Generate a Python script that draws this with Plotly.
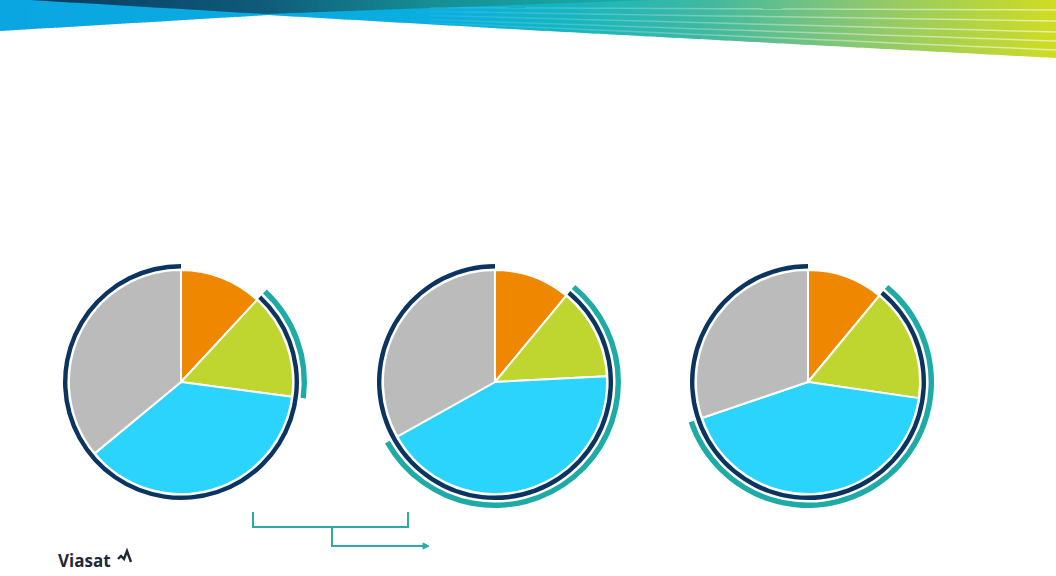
import plotly.graph_objects as go

W, H = 1056, 576

# ---------------- data ----------------
segments = ["Orange", "Green", "Blue", "Gray"]
pie1_values = [11.9, 15.2, 36.9, 36.0]
pie2_values = [11.0, 13.2, 42.7, 33.1]
pie3_values = [11.0, 16.3, 42.5, 30.2]
# which segments are wrapped by the outer arcs
navy_arc_members = [[0, 1, 1, 1], [0, 1, 1, 1], [0, 1, 1, 1]]
teal_arc_members = [[0, 1, 0, 0], [0, 1, 1, 0], [0, 1, 1, 0]]

slice_colors = ["#EF8700", "#BFD530", "#2AD4FC", "#BBBBBB"]
NAVY = "#0C3461"
TEAL = "#1EABA6"

all_values = [pie1_values, pie2_values, pie3_values]
centers_x = [181, 495, 808]
center_y = 382
R = 112


def domain(cx, cy, r):
    return dict(x=[(cx - r) / W, (cx + r) / W], y=[1 - (cy + r) / H, 1 - (cy - r) / H])


def merged(values, flags):
    vals, fl = [], []
    for v, f in zip(values, flags):
        if fl and fl[-1] == f:
            vals[-1] += v
        else:
            vals.append(v)
            fl.append(f)
    return vals, fl


fig = go.Figure()

for i, vals in enumerate(all_values):
    cx = centers_x[i]
    fig.add_trace(go.Pie(
        values=vals, labels=segments, sort=False, direction="clockwise", rotation=0,
        marker=dict(colors=slice_colors, line=dict(color="white", width=2)),
        textinfo="none", hoverinfo="skip", showlegend=False,
        domain=domain(cx, center_y, R)))
    for members, color, r_out, r_in in [(navy_arc_members[i], NAVY, 118, 113.6),
                                          (teal_arc_members[i], TEAL, 126, 120.6)]:
        v, f = merged(vals, members)
        fig.add_trace(go.Pie(
            values=v, sort=False, direction="clockwise", rotation=0,
            labels=[f"{color}-{k}" for k in range(len(v))],
            marker=dict(colors=[color if ff else "rgba(0,0,0,0)" for ff in f],
                        line=dict(width=0)),
            hole=r_in / r_out, textinfo="none", hoverinfo="skip", showlegend=False,
            domain=domain(cx, center_y, r_out)))

# ---------------- header decoration ----------------
shapes = []


def lerp_color(stops, x):
    for (x0, c0), (x1, c1) in zip(stops, stops[1:]):
        if x0 <= x <= x1:
            t = (x - x0) / (x1 - x0) if x1 > x0 else 0
            a = [int(c0[k:k + 2], 16) for k in (1, 3, 5)]
            b = [int(c1[k:k + 2], 16) for k in (1, 3, 5)]
            return "rgb(%d,%d,%d)" % tuple(round(a[j] + (b[j] - a[j]) * t) for j in range(3))
    return stops[-1][1] if x > stops[-1][0] else stops[0][1]


def lerp_y(pts, x):
    for (x0, y0), (x1, y1) in zip(pts, pts[1:]):
        if x0 <= x <= x1:
            return y0 + (y1 - y0) * (x - x0) / (x1 - x0)
    return pts[-1][1]


band_bottom = [(0, 31), (268, 15), (528, 30), (1056, 58)]
band_stops = [(0, "#0AA6E2"), (440, "#0AAEDF"), (560, "#14B5C2"), (700, "#3DB8A2"),
              (850, "#86C676"), (1056, "#D0DC22")]
step = 4
for x0 in range(0, W, step):
    x1 = min(x0 + step + 0.6, W + 1)
    yb0, yb1 = lerp_y(band_bottom, x0), lerp_y(band_bottom, x1)
    c = lerp_color(band_stops, x0 + step / 2)
    shapes.append(dict(type="path", xref="x", yref="y",
                       path=f"M{x0},-1 L{x1},-1 L{x1},{yb1} L{x0},{yb0} Z",
                       fillcolor=c, line=dict(width=0), layer="below"))

wedge_bottom = [(30, 0), (265, 14), (430, 8), (650, 0)]
wedge_stops = [(30, "#0A3A60"), (265, "#0E5C7A"), (430, "#168E95"), (650, "#1BAEA6")]
for x0 in range(30, 650, step):
    x1 = min(x0 + step + 0.6, 650)
    yb0, yb1 = lerp_y(wedge_bottom, x0), lerp_y(wedge_bottom, x1)
    c = lerp_color(wedge_stops, x0 + step / 2)
    shapes.append(dict(type="path", xref="x", yref="y",
                       path=f"M{x0},-1 L{x1},-1 L{x1},{yb1} L{x0},{yb0} Z",
                       fillcolor=c, line=dict(width=0), layer="below"))

# faint white streaks fading in from the left
for ya, yb in zip([8, 13, 18, 23, 27], [10, 21, 32, 41, 50]):
    xs_list = list(range(430, W + 1, 32))
    for xa, xb in zip(xs_list, xs_list[1:] + [W]):
        if xb <= xa:
            continue
        y0 = ya + (yb - ya) * (xa - 528) / 528
        y1 = ya + (yb - ya) * (xb - 528) / 528
        op = 0.08 + 0.5 * (xa - 430) / (W - 430)
        shapes.append(dict(type="line", xref="x", yref="y", x0=xa, y0=y0, x1=xb, y1=y1,
                           line=dict(color=f"rgba(255,255,255,{op:.2f})", width=1.5),
                           layer="below"))

# ---------------- bracket + arrow ----------------
BR = "#2AACA6"
shapes.append(dict(type="path", xref="x", yref="y", path="M253,512 L253,527 L408,527 L408,512",
                   line=dict(color=BR, width=2)))
shapes.append(dict(type="path", xref="x", yref="y", path="M332,527 L332,546 L424,546",
                   line=dict(color=BR, width=2)))
shapes.append(dict(type="path", xref="x", yref="y", path="M423,543 L429,546 L423,549 Z",
                   fillcolor=BR, line=dict(color=BR, width=1)))

# logo mark
shapes.append(dict(type="path", xref="x", yref="y",
                   path="M118,559 L121,556 L124,559 L127,551 L131,562",
                   line=dict(color="#1E2A36", width=2.4)))

fig.update_layout(
    width=W, height=H, margin=dict(l=0, r=0, t=0, b=0),
    paper_bgcolor="white", plot_bgcolor="white",
    xaxis=dict(range=[0, W], visible=False, fixedrange=True),
    yaxis=dict(range=[H, 0], visible=False, fixedrange=True),
    shapes=shapes,
    annotations=[dict(x=56, y=560, xref="x", yref="y", text="<b>Viasat</b>",
                      showarrow=False, xanchor="left", yanchor="middle",
                      font=dict(family="Open Sans", size=17, color="#1E2A36"))],
)

fig.write_html("out.html", config={"displayModeBar": False},
               post_script="document.body.style.margin='0';document.body.style.overflow='hidden';")
